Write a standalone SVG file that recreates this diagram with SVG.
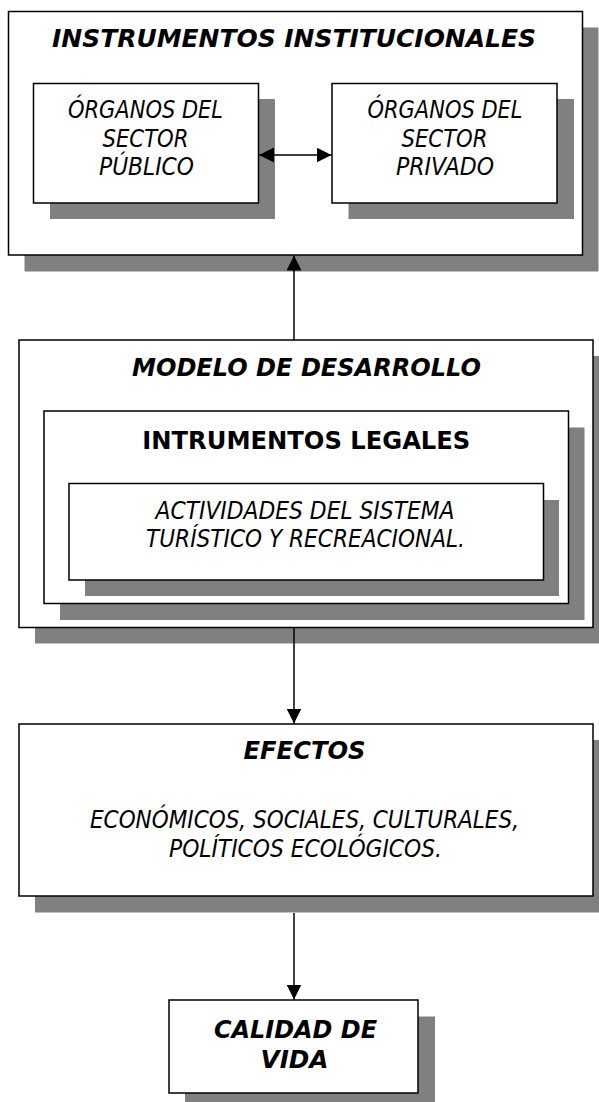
<svg xmlns="http://www.w3.org/2000/svg" width="599" height="1102" viewBox="0 0 599 1102">
  <style>
    .box { fill: #ffffff; stroke: #000000; stroke-width: 1.5; }
    .shadow { fill: #808080; stroke: none; }
    .t { font-family: "DejaVu Sans", Verdana, sans-serif; font-size: 24px; fill: #000000; text-anchor: middle; }
    .bi { font-weight: bold; font-style: italic; }
    .b { font-weight: bold; }
    .i { font-style: italic; }
    .conn { stroke: #000000; stroke-width: 1.5; fill: none; }
  </style>
  <defs>
    <marker id="arrow" markerUnits="userSpaceOnUse" markerWidth="15" markerHeight="15" refX="15" refY="7.5" orient="auto-start-reverse">
      <path d="M0,0 L15,7.5 L0,15 Z" fill="#000000"/>
    </marker>
  </defs>

  <g id="instrumentos-institucionales">
    <rect class="shadow" x="24.5" y="27.5" width="574" height="244"/>
    <rect class="box" x="8.5" y="11.5" width="574" height="243.5"/>
    <text class="t bi" x="294" y="47" textLength="484" lengthAdjust="spacingAndGlyphs">INSTRUMENTOS INSTITUCIONALES</text>
  </g>

  <g id="sector-publico">
    <rect class="shadow" x="50" y="99" width="225" height="120"/>
    <rect class="box" x="33.5" y="83.5" width="225" height="119.5"/>
    <text class="t i" x="145.5" y="118" textLength="155" lengthAdjust="spacingAndGlyphs">ÓRGANOS DEL</text>
    <text class="t i" x="145.5" y="147" textLength="86" lengthAdjust="spacingAndGlyphs">SECTOR</text>
    <text class="t i" x="146.5" y="175" textLength="95" lengthAdjust="spacingAndGlyphs">PÚBLICO</text>
  </g>

  <g id="sector-privado">
    <rect class="shadow" x="348.5" y="99" width="225.5" height="120"/>
    <rect class="box" x="332" y="83.5" width="225" height="119.5"/>
    <text class="t i" x="445" y="118" textLength="155" lengthAdjust="spacingAndGlyphs">ÓRGANOS DEL</text>
    <text class="t i" x="444.5" y="147" textLength="86" lengthAdjust="spacingAndGlyphs">SECTOR</text>
    <text class="t i" x="445" y="175" textLength="98" lengthAdjust="spacingAndGlyphs">PRIVADO</text>
  </g>

  <g id="modelo-de-desarrollo">
    <rect class="shadow" x="35" y="356" width="574" height="287.5"/>
    <rect class="box" x="19" y="340" width="574" height="287.5"/>
    <text class="t bi" x="306.5" y="376" textLength="349" lengthAdjust="spacingAndGlyphs">MODELO DE DESARROLLO</text>
  </g>

  <g id="instrumentos-legales">
    <rect class="shadow" x="60" y="427.5" width="524.5" height="192.5"/>
    <rect class="box" x="44" y="411" width="524.5" height="192.5"/>
    <text class="t b" x="306.3" y="449" textLength="328" lengthAdjust="spacingAndGlyphs">INTRUMENTOS LEGALES</text>
  </g>

  <g id="actividades">
    <rect class="shadow" x="85" y="500" width="474" height="96"/>
    <rect class="box" x="69" y="483.5" width="474.5" height="96.5"/>
    <text class="t i" x="305" y="519" textLength="299" lengthAdjust="spacingAndGlyphs">ACTIVIDADES DEL SISTEMA</text>
    <text class="t i" x="305.5" y="547" textLength="319" lengthAdjust="spacingAndGlyphs">TURÍSTICO Y RECREACIONAL.</text>
  </g>

  <g id="efectos">
    <rect class="shadow" x="35" y="740" width="574" height="172.5"/>
    <rect class="box" x="19" y="724" width="574" height="172"/>
    <text class="t bi" x="304.5" y="759" textLength="122" lengthAdjust="spacingAndGlyphs">EFECTOS</text>
    <text class="t i" x="304.5" y="828" textLength="429" lengthAdjust="spacingAndGlyphs">ECONÓMICOS, SOCIALES, CULTURALES,</text>
    <text class="t i" x="305.5" y="857" textLength="273" lengthAdjust="spacingAndGlyphs">POLÍTICOS ECOLÓGICOS.</text>
  </g>

  <g id="calidad-de-vida">
    <rect class="shadow" x="185" y="1016.5" width="250" height="93"/>
    <rect class="box" x="169" y="1000" width="249" height="93"/>
    <text class="t bi" x="295.5" y="1038" font-size="23" textLength="163" lengthAdjust="spacingAndGlyphs">CALIDAD DE</text>
    <text class="t bi" x="294.5" y="1068" font-size="23" textLength="68" lengthAdjust="spacingAndGlyphs">VIDA</text>
  </g>

  <g id="connectors">
    <line class="conn" x1="259" y1="155" x2="331.5" y2="155" marker-start="url(#arrow)" marker-end="url(#arrow)"/>
    <line class="conn" x1="294" y1="340" x2="294" y2="255.5" marker-end="url(#arrow)"/>
    <line class="conn" x1="294" y1="628" x2="294" y2="723.5" marker-end="url(#arrow)"/>
    <line class="conn" x1="294" y1="913" x2="294" y2="999.5" marker-end="url(#arrow)"/>
  </g>
</svg>
